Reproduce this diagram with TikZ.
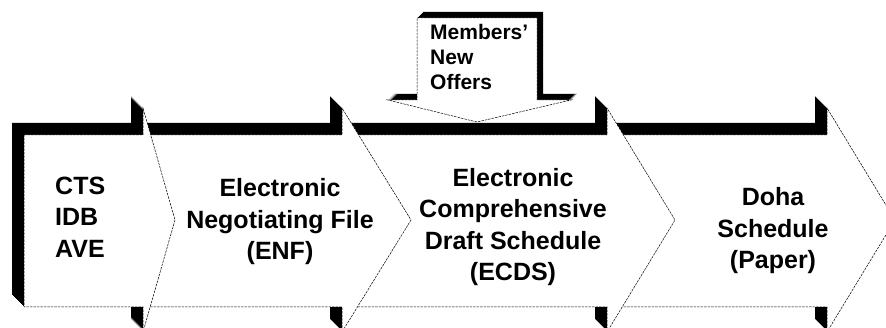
\documentclass[tikz,border=0pt]{standalone}
\usepackage{fontspec}
\setmainfont{Liberation Sans}
\newcommand\chevshape[3]{%
  \foreach \t in {1,...,12}{%
    \fill[black,shift={(-\t,-\t)}] (#1,135) -- (#2,135) -- (#2,108) -- (#3,220) -- (#2,332) -- (#2,307) -- (#1,307) -- cycle;
  }%
  \draw[face] (#1,135) -- (#2,135) -- (#2,108) -- (#3,220) -- (#2,332) -- (#2,307) -- (#1,307) -- cycle;
}
\begin{document}
\begin{tikzpicture}[x=1pt,y=-1pt,
  face/.style={fill=white,draw=black,line width=0.5pt,dash pattern=on 2.5pt off 1pt},
  lbl/.style={font=\fontsize{25}{31.5}\selectfont\bfseries,align=center,inner sep=0pt},
  smalllbl/.style={font=\fontsize{21}{25}\selectfont\bfseries,align=left,inner sep=0pt,anchor=west}]
\useasboundingbox (0,0) rectangle (886,328);
\clip (0,0) rectangle (886,328);
\fill[white] (0,0) rectangle (886,328);
% chevrons, right to left so that each lies over the next
\chevshape{607}{827}{895}
\chevshape{342}{607}{675}
\chevshape{143}{342}{411}
\chevshape{24}{143}{175}
% down arrow
\foreach \t in {1,...,6}{%
  \fill[black,shift={(\t,-\t)}] (417,18) -- (537,18) -- (537,100) -- (571,100) -- (477,122) -- (388,100) -- (417,100) -- cycle;
}
\draw[face] (417,18) -- (537,18) -- (537,100) -- (571,100) -- (477,122) -- (388,100) -- (417,100) -- cycle;
% labels
\node[lbl,align=left,anchor=west] (src) at (55,217) {CTS\\IDB\\AVE};
\node[lbl] (enf) at (280,222) {Electronic\\Negotiating File\\(ENF)};
\node[lbl] (ecds) at (513,227) {Electronic\\Comprehensive\\Draft Schedule\\(ECDS)};
\node[lbl] (doha) at (773,231) {Doha\\Schedule\\(Paper)};
\node[smalllbl] (offers) at (430,56.5) {Members'\\New\\Offers};
\end{tikzpicture}
\end{document}
